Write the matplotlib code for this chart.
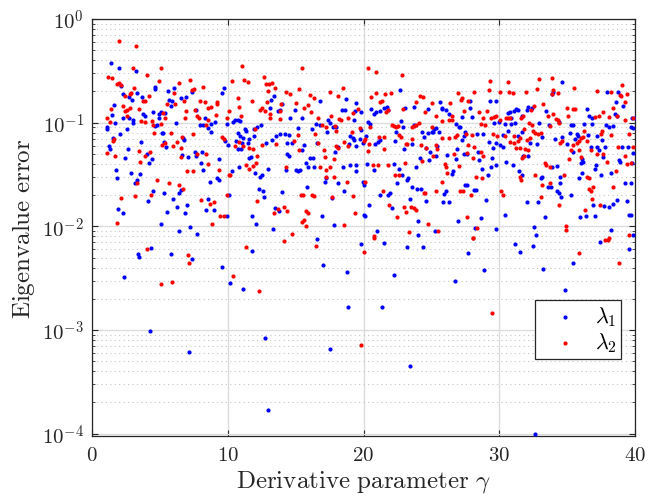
import math
import matplotlib
matplotlib.use("Agg")
import matplotlib.pyplot as plt
from matplotlib.ticker import FixedLocator, FuncFormatter, LogLocator, NullFormatter

plt.rcParams['mathtext.fontset'] = 'cm'

# (gamma, error) pairs
lam1_pts = [
    (1.38,0.38),(2.02,0.34),(3.24,0.315),(4.67,0.222),(4.67,0.212),(2.16,0.225),(2.26,0.188),(2.75,0.177),
    (2.95,0.165),(3.69,0.175),(3.29,0.193),(1.62,0.148),(4.52,0.128),(5.11,0.127),(4.92,0.12),(1.47,0.119),
    (2.31,0.11),(2.70,0.112),(3.05,0.107),(3.0,0.10),(1.67,0.099),(3.78,0.12),(3.93,0.116),(4.92,0.112),
    (4.77,0.095),(4.67,0.092),(1.08,0.090),(1.13,0.087),(2.56,0.086),(2.06,0.078),(5.16,0.080),(1.57,0.071),
    (3.64,0.065),(1.23,0.060),(1.33,0.056),(2.65,0.056),(4.03,0.050),(4.42,0.045),(2.46,0.046),(4.18,0.041),
    (1.77,0.035),(2.85,0.033),(3.54,0.032),(1.87,0.029),(3.34,0.028),(3.15,0.026),(4.52,0.022),(4.13,0.0175),
    (1.92,0.0147),(2.26,0.0135),(5.06,0.0106),
    (5.60,0.20),(6.05,0.214),(9.54,0.195),(9.73,0.218),(5.70,0.165),(5.90,0.162),(5.80,0.146),(6.54,0.172),
    (6.93,0.177),(7.33,0.197),(5.36,0.124),(6.15,0.10),(7.67,0.131),(7.92,0.094),(8.16,0.095),(8.31,0.110),
    (8.80,0.096),(9.05,0.102),(8.51,0.088),(8.75,0.081),(6.69,0.071),(6.78,0.068),(5.21,0.08),(9.78,0.066),
    (10.03,0.061),(5.31,0.065),(5.46,0.058),(6.64,0.049),(7.08,0.047),(7.57,0.052),(8.11,0.052),(7.67,0.048),
    (8.01,0.041),(9.39,0.045),(8.16,0.035),(9.19,0.029),(9.34,0.028),(8.70,0.027),(6.44,0.021),(6.59,0.0225),
    (5.31,0.021),(10.08,0.020),(6.00,0.0185),(8.51,0.0183),(6.98,0.016),(6.25,0.0155),(8.41,0.0143),(8.95,0.0144),
    (5.51,0.0136),(6.83,0.0133),(7.23,0.0098),(6.39,0.0091),(7.77,0.0085),
    (13.37,0.180),(13.18,0.166),(13.08,0.137),(13.96,0.150),(13.67,0.129),(13.82,0.133),(14.95,0.131),(14.55,0.110),
    (10.37,0.101),(10.52,0.106),(10.72,0.105),(10.87,0.104),(9.98,0.096),(12.44,0.095),(12.14,0.09),(11.95,0.087),
    (11.26,0.086),(11.36,0.084),(11.90,0.075),(10.77,0.079),(10.87,0.075),(11.11,0.071),(11.55,0.070),(13.57,0.075),
    (13.87,0.077),(14.21,0.077),(14.50,0.076),(10.57,0.066),(11.06,0.063),(11.50,0.063),(12.83,0.063),(13.23,0.068),
    (14.36,0.064),(14.70,0.063),(10.72,0.056),(10.96,0.056),(14.36,0.050),(14.50,0.048),(11.60,0.046),(11.70,0.047),
    (10.82,0.037),(12.93,0.036),(14.26,0.035),(15.04,0.035),(10.32,0.034),(12.04,0.033),(12.34,0.030),(12.49,0.031),
    (12.29,0.023),(12.59,0.022),(12.68,0.019),(14.01,0.0215),(13.47,0.015),(13.77,0.014),(9.93,0.0125),(11.75,0.0125),
    (12.09,0.0106),(13.32,0.0094),
    (16.77,0.162),(18.73,0.168),(19.47,0.155),(18.39,0.133),(18.63,0.133),(19.37,0.129),(19.81,0.126),(15.44,0.110),
    (17.36,0.105),(17.50,0.099),(19.32,0.105),(19.81,0.085),(16.47,0.098),(16.82,0.094),(17.75,0.090),(17.95,0.091),
    (15.19,0.089),(16.18,0.087),(17.31,0.081),(18.98,0.074),(19.22,0.071),(19.32,0.068),(19.71,0.069),(19.96,0.063),
    (15.63,0.061),(15.49,0.054),(16.57,0.063),(18.14,0.058),(17.90,0.052),(18.93,0.062),(19.47,0.059),(16.08,0.046),
    (16.28,0.046),(15.73,0.041),(15.88,0.037),(16.37,0.037),(15.14,0.034),(15.34,0.035),(18.49,0.037),(18.98,0.039),
    (19.47,0.039),(19.47,0.034),(17.16,0.027),(17.26,0.029),(18.14,0.026),(18.54,0.022),(19.96,0.027),(15.83,0.024),
    (17.65,0.0187),(16.96,0.0125),(17.85,0.0104),(20.06,0.013),
    (22.66,0.205),(20.55,0.135),(20.75,0.12),(20.89,0.128),(21.24,0.129),(21.53,0.138),(21.73,0.143),(21.83,0.133),
    (23.06,0.137),(23.75,0.141),(24.73,0.135),(20.30,0.102),(20.45,0.097),(22.76,0.104),(22.91,0.091),(23.70,0.094),
    (24.29,0.081),(24.43,0.073),(24.73,0.080),(25.02,0.082),(20.20,0.074),(20.84,0.062),(21.04,0.065),(21.24,0.068),
    (22.37,0.082),(22.32,0.066),(23.55,0.062),(22.96,0.056),(24.63,0.057),(24.88,0.052),(20.25,0.040),(20.79,0.035),
    (22.22,0.040),(22.61,0.036),(23.84,0.037),(24.14,0.046),(24.83,0.044),(20.01,0.025),(22.81,0.031),(22.47,0.026),
    (23.20,0.028),(23.30,0.029),(23.60,0.024),(23.94,0.023),(24.24,0.023),(24.58,0.0174),(21.98,0.021),(21.83,0.020),
    (21.19,0.020),(20.40,0.016),(22.12,0.015),(23.40,0.0183),(20.11,0.0127),(24.04,0.0112),(20.99,0.0091),(24.04,0.0083),
    (25.62,0.158),(27.83,0.162),(25.77,0.135),(25.81,0.14),(26.06,0.133),(27.83,0.137),(26.31,0.12),(27.29,0.113),
    (27.98,0.113),(29.31,0.162),(29.75,0.16),(25.22,0.087),(25.32,0.088),(25.12,0.081),(25.57,0.081),(26.80,0.098),
    (27.04,0.09),(27.14,0.09),(27.49,0.081),(27.44,0.075),(28.37,0.078),(28.81,0.077),(29.60,0.10),(30.0,0.101),
    (27.24,0.068),(29.26,0.065),(29.75,0.063),(30.09,0.061),(25.42,0.06),(26.90,0.056),(29.55,0.057),(28.47,0.052),
    (26.16,0.049),(27.39,0.050),(27.59,0.050),(29.50,0.046),(28.52,0.044),(26.85,0.045),(25.32,0.048),(29.41,0.037),
    (29.75,0.039),(28.71,0.036),(29.16,0.031),(26.50,0.032),(26.60,0.034),(27.49,0.025),(27.63,0.025),(26.06,0.022),
    (25.91,0.0205),(28.12,0.0225),(28.27,0.0225),(29.01,0.018),(25.86,0.017),(26.31,0.017),(26.94,0.0113),(28.67,0.0119),
    (25.27,0.0091),(28.22,0.0096),(29.75,0.0095),
    (34.61,0.248),(33.87,0.191),(33.97,0.199),(30.68,0.124),(30.82,0.126),(31.12,0.129),(31.27,0.134),(31.41,0.131),
    (31.71,0.115),(32.01,0.131),(32.15,0.143),(32.40,0.137),(30.87,0.112),(33.48,0.129),(30.43,0.098),(30.87,0.098),
    (31.17,0.099),(32.94,0.099),(33.68,0.094),(34.37,0.101),(30.63,0.084),(30.29,0.076),(31.41,0.074),(31.66,0.081),
    (33.18,0.073),(34.12,0.069),(30.24,0.058),(32.25,0.063),(32.79,0.062),(34.61,0.072),(35.00,0.062),(31.76,0.048),
    (32.11,0.048),(30.53,0.042),(31.02,0.039),(31.46,0.034),(33.87,0.037),(34.27,0.038),(31.66,0.031),(33.04,0.029),
    (33.14,0.030),(33.58,0.024),(33.82,0.024),(34.51,0.030),(34.46,0.026),(34.27,0.022),(34.37,0.021),(34.56,0.019),
    (32.01,0.0172),(32.89,0.017),(30.43,0.013),(33.38,0.0123),(32.55,0.0098),(32.74,0.0083),
    (37.96,0.197),(38.75,0.197),(38.60,0.159),(39.14,0.146),(36.49,0.134),(36.63,0.117),(36.83,0.11),(38.50,0.122),
    (38.65,0.115),(39.78,0.112),(39.98,0.112),(35.25,0.095),(35.40,0.095),(36.24,0.096),(37.86,0.095),(38.11,0.091),
    (38.35,0.093),(36.83,0.098),(39.73,0.091),(39.88,0.089),(35.21,0.079),(35.70,0.077),(35.80,0.075),(36.54,0.076),
    (37.22,0.075),(35.55,0.07),(37.56,0.068),(36.78,0.058),(37.17,0.058),(37.32,0.055),(37.81,0.058),(39.04,0.058),
    (39.48,0.058),(39.88,0.051),(35.40,0.052),(36.09,0.045),(36.14,0.042),(35.99,0.041),(37.66,0.047),(38.80,0.044),
    (38.89,0.042),(39.78,0.041),(37.12,0.039),(37.07,0.036),(38.20,0.033),(37.51,0.031),(36.09,0.033),(35.84,0.029),
    (39.29,0.026),(39.68,0.026),(35.30,0.020),(39.39,0.0175),(38.65,0.0178),(38.35,0.0163),(38.06,0.0152),(37.71,0.0157),
    (36.93,0.0162),(39.53,0.0129),(39.68,0.0129),(35.94,0.0123),(36.39,0.0127),(37.02,0.0127),(38.25,0.0093),(39.88,0.0083),
    (2.38,0.00326),(3.42,0.0054),(3.49,0.00504),(4.35,0.00624),(4.25,0.00098),(5.83,0.00542),(7.37,0.00482),(7.15,0.00062),
    (9.56,0.00406),(10.18,0.00281),(11.14,0.00248),(11.82,0.0058),(12.76,0.00084),(13.0,0.000168),(16.57,0.00755),(17.04,0.00425),
    (17.55,0.00066),(18.78,0.00359),(18.85,0.00168),(19.79,0.0068),(21.49,0.00697),(21.34,0.00165),(22.27,0.00336),(23.2,0.00638),
    (23.43,0.000454),(24.39,0.00638),(26.72,0.003),(27.73,0.00554),(28.89,0.00375),(31.15,0.0067),(31.54,0.00566),(32.47,0.00643),
    (32.65,0.0000986),(33.26,0.00389),(34.83,0.00243),(35.45,0.0044),(37.39,0.00702),(39.58,0.006),
]

lam2_pts = [
    (2.02,0.61),(3.24,0.55),(3.0,0.333),(1.20,0.277),(1.47,0.267),(4.08,0.29),(5.06,0.34),(1.82,0.235),
    (1.97,0.24),(2.11,0.23),(4.96,0.25),(3.10,0.214),(2.90,0.195),(2.80,0.188),(2.46,0.18),(4.18,0.18),
    (2.31,0.146),(3.73,0.162),(3.93,0.162),(1.38,0.134),(2.56,0.131),(2.41,0.129),(2.80,0.138),(3.44,0.134),
    (1.08,0.112),(1.33,0.102),(2.61,0.117),(3.64,0.104),(3.88,0.102),(4.42,0.104),(4.52,0.094),(5.06,0.097),
    (4.57,0.080),(1.62,0.07),(1.52,0.066),(5.16,0.061),(1.13,0.051),(1.72,0.048),(3.49,0.053),(4.28,0.052),
    (3.88,0.048),(3.54,0.042),(4.77,0.028),(3.34,0.026),(3.19,0.0195),(4.33,0.020),(2.16,0.0187),(1.82,0.0108),
    (7.23,0.26),(6.39,0.24),(6.05,0.193),(7.52,0.212),(7.33,0.207),(8.16,0.222),(6.78,0.161),(6.10,0.152),
    (5.55,0.15),(7.92,0.162),(8.31,0.159),(9.19,0.157),(9.24,0.150),(8.51,0.139),(8.80,0.141),(6.93,0.129),
    (7.62,0.131),(5.26,0.125),(5.41,0.111),(6.83,0.112),(7.77,0.117),(7.87,0.110),(8.55,0.107),(9.10,0.119),
    (9.98,0.112),(10.08,0.13),(8.41,0.095),(5.80,0.08),(7.47,0.078),(6.64,0.072),(9.59,0.073),(9.69,0.07),
    (5.36,0.064),(6.00,0.059),(6.29,0.065),(6.59,0.057),(6.54,0.047),(7.77,0.050),(8.41,0.050),(8.51,0.040),
    (7.03,0.034),(7.42,0.034),(9.34,0.035),(10.08,0.031),(5.70,0.026),(6.44,0.025),(6.69,0.023),(8.06,0.018),
    (8.99,0.017),(8.70,0.0165),(9.93,0.020),(9.44,0.0125),(9.69,0.0125),(8.85,0.0106),
    (11.06,0.35),(10.28,0.254),(11.16,0.26),(11.46,0.248),(12.68,0.273),(12.78,0.237),(13.03,0.238),(13.23,0.241),
    (13.47,0.218),(12.98,0.202),(14.31,0.199),(14.55,0.188),(10.72,0.174),(11.75,0.163),(12.88,0.159),(10.82,0.141),
    (15.04,0.155),(12.34,0.131),(12.49,0.137),(12.73,0.130),(13.13,0.122),(13.92,0.152),(13.87,0.130),(10.96,0.116),
    (13.13,0.112),(13.82,0.108),(12.00,0.087),(10.52,0.06),(10.86,0.065),(11.11,0.060),(11.60,0.057),(11.85,0.056),
    (12.54,0.061),(13.57,0.062),(14.85,0.066),(12.19,0.048),(11.31,0.039),(11.60,0.036),(11.85,0.038),(12.09,0.041),
    (14.26,0.037),(10.18,0.031),(12.19,0.0174),(13.37,0.0133),(13.72,0.0148),(14.11,0.0153),(14.40,0.014),(14.70,0.0085),
    (15.44,0.34),(15.24,0.213),(17.55,0.199),(18.49,0.216),(16.03,0.183),(16.37,0.174),(18.14,0.18),(15.88,0.148),
    (15.63,0.137),(16.13,0.128),(16.67,0.112),(17.60,0.117),(18.34,0.105),(18.19,0.108),(18.88,0.11),(19.22,0.125),
    (19.57,0.135),(16.96,0.095),(16.42,0.078),(15.19,0.076),(17.26,0.090),(17.90,0.092),(18.00,0.084),(18.00,0.059),
    (18.09,0.057),(18.59,0.065),(18.83,0.06),(19.17,0.081),(19.71,0.088),(20.06,0.066),(16.62,0.063),(15.24,0.055),
    (17.06,0.055),(17.16,0.047),(17.85,0.045),(16.82,0.037),(17.50,0.037),(17.21,0.035),(17.26,0.030),(17.85,0.030),
    (18.78,0.027),(15.39,0.020),(15.54,0.020),(16.23,0.020),(16.32,0.0195),(17.65,0.019),(19.22,0.0195),(15.78,0.014),
    (15.93,0.0135),(15.49,0.011),(15.59,0.0114),(15.73,0.010),(18.59,0.0102),(19.37,0.0133),
    (20.30,0.34),(20.89,0.31),(22.81,0.286),(20.55,0.178),(20.94,0.192),(21.58,0.188),(22.02,0.193),(21.24,0.157),
    (21.34,0.162),(23.84,0.157),(24.14,0.18),(24.38,0.176),(25.07,0.155),(21.63,0.128),(21.78,0.133),(22.91,0.135),
    (24.53,0.128),(22.07,0.095),(22.22,0.092),(22.37,0.090),(22.52,0.092),(23.55,0.090),(23.70,0.092),(23.84,0.094),
    (24.09,0.10),(25.07,0.09),(20.50,0.090),(20.11,0.07),(21.14,0.072),(21.48,0.073),(22.61,0.076),(22.76,0.073),
    (23.60,0.07),(20.40,0.062),(21.53,0.056),(23.11,0.062),(23.20,0.062),(24.24,0.061),(24.58,0.057),(20.35,0.053),
    (20.70,0.039),(21.04,0.039),(21.78,0.039),(23.06,0.041),(24.33,0.043),(25.12,0.048),(22.32,0.031),(22.61,0.031),
    (20.11,0.027),(21.43,0.022),(21.88,0.016),(22.96,0.0152),(23.50,0.0154),(23.75,0.0150),(23.89,0.0145),(24.48,0.021),
    (24.53,0.021),(22.47,0.0123),(23.15,0.0136),(24.73,0.0106),(20.80,0.0080),(23.35,0.0089),
    (29.31,0.25),(26.99,0.192),(27.29,0.174),(27.19,0.166),(28.17,0.196),(29.26,0.206),(30.09,0.199),(26.40,0.155),
    (27.68,0.163),(27.44,0.13),(28.52,0.128),(29.11,0.129),(25.37,0.117),(25.81,0.104),(26.31,0.105),(26.50,0.105),
    (26.50,0.117),(28.81,0.112),(29.41,0.11),(29.60,0.113),(29.75,0.117),(30.04,0.107),(28.62,0.096),(28.96,0.095),
    (25.77,0.071),(26.31,0.071),(26.75,0.072),(26.90,0.076),(27.54,0.078),(27.98,0.076),(29.55,0.078),(29.85,0.074),
    (25.37,0.061),(25.42,0.056),(26.65,0.05),(27.73,0.061),(28.17,0.058),(27.63,0.051),(28.03,0.046),(28.67,0.052),
    (28.81,0.048),(26.01,0.04),(26.11,0.037),(26.16,0.033),(27.04,0.038),(25.81,0.027),(28.32,0.03),(28.76,0.029),
    (25.32,0.022),(27.09,0.022),(27.34,0.022),(27.93,0.020),(30.14,0.022),(27.59,0.0124),(25.52,0.0091),(28.03,0.0078),
    (28.37,0.0096),
    (30.63,0.248),(32.94,0.265),(33.87,0.272),(30.73,0.199),(31.02,0.192),(31.96,0.199),(32.79,0.212),(33.97,0.205),
    (34.32,0.195),(33.87,0.188),(35.0,0.137),(33.23,0.152),(32.55,0.146),(32.35,0.133),(30.48,0.11),(30.63,0.112),
    (30.82,0.11),(31.61,0.112),(31.76,0.117),(33.58,0.117),(33.97,0.12),(34.17,0.108),(34.32,0.105),(34.42,0.10),
    (35.10,0.117),(32.20,0.1),(32.40,0.095),(31.81,0.087),(32.50,0.083),(32.65,0.08),(32.89,0.077),(33.09,0.080),
    (33.72,0.092),(30.43,0.074),(31.07,0.075),(32.25,0.071),(32.01,0.068),(31.51,0.071),(34.51,0.063),(34.66,0.066),
    (30.82,0.065),(31.12,0.063),(31.41,0.066),(31.27,0.057),(31.56,0.057),(32.11,0.055),(31.91,0.056),(31.71,0.046),
    (31.86,0.048),(35.15,0.045),(33.38,0.041),(33.48,0.039),(33.77,0.037),(31.51,0.030),(31.61,0.028),(32.65,0.031),
    (34.76,0.031),(33.72,0.026),(33.18,0.025),(30.24,0.020),(33.04,0.019),(34.37,0.016),(34.90,0.010),(34.90,0.0092),
    (35.50,0.214),(39.04,0.233),(37.22,0.201),(38.25,0.199),(38.89,0.185),(38.94,0.18),(39.43,0.188),(39.29,0.157),
    (35.45,0.135),(35.60,0.136),(38.35,0.137),(37.61,0.128),(38.11,0.114),(37.07,0.113),(37.32,0.115),(38.70,0.117),
    (39.24,0.107),(39.83,0.110),(36.24,0.083),(37.56,0.084),(37.47,0.078),(36.14,0.073),(35.99,0.071),(38.20,0.076),
    (39.53,0.078),(35.89,0.066),(35.75,0.064),(36.44,0.066),(35.45,0.061),(35.25,0.054),(35.84,0.055),(36.73,0.055),
    (37.17,0.05),(38.75,0.058),(39.88,0.058),(35.99,0.047),(37.66,0.05),(39.24,0.048),(37.96,0.042),(39.39,0.040),
    (39.73,0.041),(36.49,0.030),(36.58,0.029),(38.60,0.034),(36.93,0.024),(36.63,0.023),(36.73,0.022),(38.40,0.024),
    (36.83,0.0185),(37.42,0.016),(36.34,0.0143),(38.06,0.0077),(39.58,0.0083),
    (4.03,0.0061),(5.07,0.00277),(5.9,0.00292),(7.06,0.0053),(7.15,0.0044),(10.35,0.00333),(11.36,0.00628),(12.29,0.00237),
    (14.16,0.0072),(16.5,0.00645),(20.0,0.00562),(19.84,0.00072),(29.45,0.00147),(35.9,0.00558),(37.76,0.00745),(37.98,0.00745),
    (38.79,0.0044),(28.07,0.0077),(20.8,0.0077),
]

x_ticks = [0, 10, 20, 30, 40]
y_ticks = [1e-4, 1e-3, 1e-2, 1e-1, 1e0]

g1 = [p[0] for p in lam1_pts]
e1 = [p[1] for p in lam1_pts]
g2 = [p[0] for p in lam2_pts]
e2 = [p[1] for p in lam2_pts]

fig = plt.figure(figsize=(6.49, 5.02), dpi=100)
ax = fig.add_axes([0.1418, 0.1295, 0.8366, 0.8307])

ax.scatter(g1, e1, s=9, color=(0, 0, 1), linewidths=0, label=r'$\lambda_1$', zorder=3)
ax.scatter(g2, e2, s=9, color=(1, 0, 0), linewidths=0, label=r'$\lambda_2$', zorder=3)

ax.set_yscale('log')
ax.set_xlim(0, 40)
ax.set_ylim(9.5e-5, 1)
ax.xaxis.set_major_locator(FixedLocator(x_ticks))
ax.yaxis.set_major_locator(FixedLocator(y_ticks))
ax.yaxis.set_minor_locator(LogLocator(base=10, subs=range(2, 10)))
ax.yaxis.set_minor_formatter(NullFormatter())
ax.xaxis.set_major_formatter(FuncFormatter(lambda v, p: r'$%d$' % v))
ax.yaxis.set_major_formatter(FuncFormatter(lambda v, p: r'$10^{%d}$' % round(math.log10(v))))

ax.grid(True, which='major', color='#dcdcdc', linewidth=1.0, zorder=0)
ax.grid(True, which='minor', axis='y', color='#c4c4c4', linewidth=0.8, linestyle=(0, (1, 3)), zorder=0)
ax.set_axisbelow(True)

ax.tick_params(which='both', direction='in', top=True, right=True, colors='#262626', labelcolor='#262626')
ax.tick_params(which='major', length=4.5, width=0.8, labelsize=15, pad=6)
ax.tick_params(which='minor', length=2.5, width=0.6)
for s in ax.spines.values():
    s.set_color('#262626')
    s.set_linewidth(0.9)

ax.set_xlabel(r'$\mathrm{Derivative\ parameter}\ \gamma$', fontsize=18, color='#262626', labelpad=3)
ax.set_ylabel(r'$\mathrm{Eigenvalue\ error}$', fontsize=18, color='#262626', labelpad=3)

leg = ax.legend(loc='lower right', bbox_to_anchor=(0.975, 0.185), borderaxespad=0, fontsize=16,
                fancybox=False, edgecolor='#262626', framealpha=1, markerscale=1.0,
                handlelength=2.3, handletextpad=0.2, borderpad=0.2, labelspacing=0.1)
leg.get_frame().set_linewidth(0.9)

fig.savefig('out.png', dpi=100)
